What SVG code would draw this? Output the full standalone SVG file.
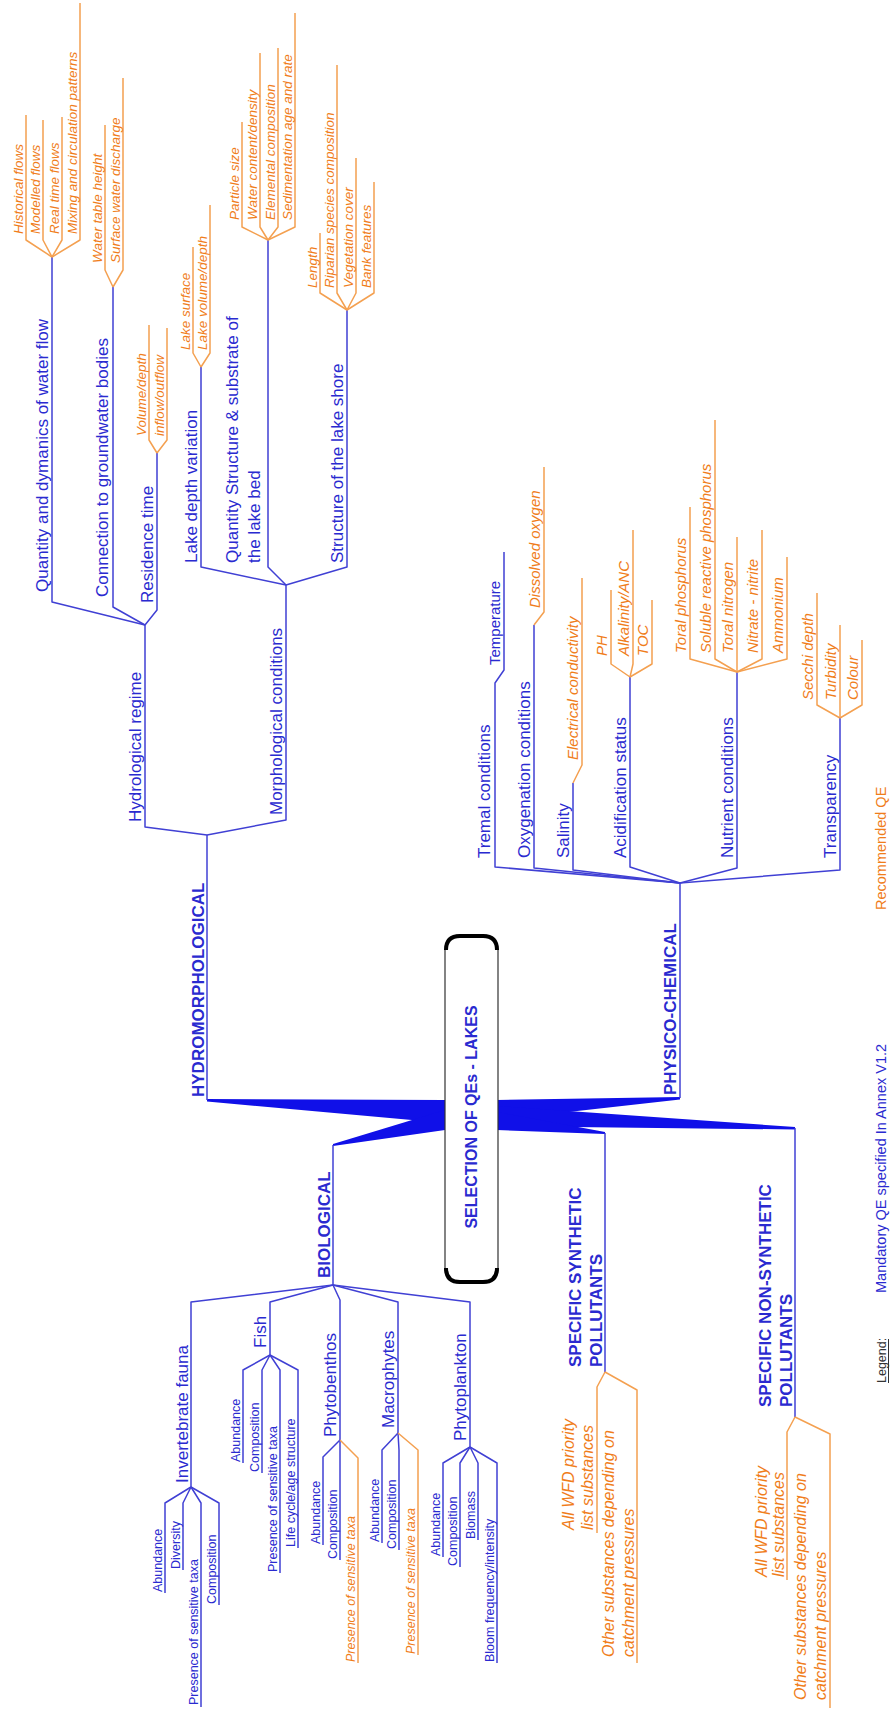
<svg xmlns="http://www.w3.org/2000/svg" width="893" height="1715" viewBox="0 0 893 1715">
<style>
text{font-family:"Liberation Sans",Arial,sans-serif}
.b1{font-weight:bold;font-size:17px;fill:#2a2ad0}
.b0{font-weight:bold;font-size:16px;fill:#2a2ad0}
.b2{font-size:17px;fill:#2a2ad0}
.b3{font-size:15px;fill:#2a2ad0}
.b4{font-size:12.5px;fill:#2a2ad0}
.o1{font-style:italic;font-size:13.5px;fill:#f07d1a}
.o2{font-style:italic;font-size:15px;fill:#f07d1a}
.o3{font-style:italic;font-size:16px;fill:#f07d1a}
.o4{font-style:italic;font-size:12.5px;fill:#f07d1a}
.lg{font-size:12.5px;fill:#333}
.ln{stroke:#4040d4;stroke-width:1.5;fill:none;stroke-linejoin:round}
.lo{stroke:#f4a050;stroke-width:1.5;fill:none;stroke-linejoin:round}
.wd{fill:#1010e8}
</style>
<rect width="893" height="1715" fill="#fff"/>
<g id="connectors">
<polygon class="wd" points="207,1099 445,1100 445,1123 207,1101.5"/>
<polygon class="wd" points="445,1110 445,1130 333,1146 333,1144"/>
<polygon class="wd" points="497,1100 680,1097 680,1099.5 497,1120"/>
<polygon class="wd" points="497,1106 795,1127 795,1129.5 497,1126"/>
<polygon class="wd" points="497,1112 497,1130 605,1134 605,1132"/>
<polyline class="ln" points="207,1100 207,835"/>
<polyline class="ln" points="207,835 145,827 145,625"/>
<polyline class="ln" points="207,835 286,820 286,585"/>
<polyline class="ln" points="145,625 52,602 52,257"/>
<polyline class="ln" points="145,625 113,607 113,287"/>
<polyline class="ln" points="145,625 157,610 157,453"/>
<polyline class="ln" points="286,585 201,567 201,367"/>
<polyline class="ln" points="286,585 268,567 268,240"/>
<polyline class="ln" points="286,585 347,567 347,310"/>
<polyline class="lo" points="52,257 26,240 26,115"/>
<polyline class="lo" points="52,257 43,240 43,120"/>
<polyline class="lo" points="52,257 62,240 62,117"/>
<polyline class="lo" points="52,257 80,240 80,3"/>
<polyline class="lo" points="113,287 105,270 105,125"/>
<polyline class="lo" points="113,287 123,270 123,78"/>
<polyline class="lo" points="157,453 149,440 149,325"/>
<polyline class="lo" points="157,453 167,440 167,328"/>
<polyline class="lo" points="201,367 193,353 193,247"/>
<polyline class="lo" points="201,367 210,353 210,205"/>
<polyline class="lo" points="268,240 242,227 242,122"/>
<polyline class="lo" points="268,240 260,227 260,53"/>
<polyline class="lo" points="268,240 278,227 278,48"/>
<polyline class="lo" points="268,240 295,227 295,13"/>
<polyline class="lo" points="347,310 320,293 320,233"/>
<polyline class="lo" points="347,310 337,293 337,65"/>
<polyline class="lo" points="347,310 356,293 356,158"/>
<polyline class="lo" points="347,310 374,293 374,182"/>
<polyline class="ln" points="680,1098 680,883"/>
<polyline class="ln" points="680,883 495,867 495,683 504,670 504,552"/>
<polyline class="ln" points="680,883 534,868 534,625"/>
<polyline class="lo" points="534,625 544,612 544,467"/>
<polyline class="ln" points="680,883 573,870 573,783"/>
<polyline class="lo" points="573,783 582,765 582,578"/>
<polyline class="ln" points="680,883 630,867 630,677"/>
<polyline class="lo" points="630,677 611,664 611,590"/>
<polyline class="lo" points="630,677 633,664 633,530"/>
<polyline class="lo" points="630,677 652,664 652,600"/>
<polyline class="ln" points="680,883 737,868 737,672"/>
<polyline class="lo" points="737,672 690,659 690,507"/>
<polyline class="lo" points="737,672 715,659 715,420"/>
<polyline class="lo" points="737,672 737,537"/>
<polyline class="lo" points="737,672 762,659 762,530"/>
<polyline class="lo" points="737,672 787,659 787,557"/>
<polyline class="ln" points="680,883 840,870 840,718"/>
<polyline class="lo" points="840,718 817,705 817,593"/>
<polyline class="lo" points="840,718 840,625"/>
<polyline class="lo" points="840,718 862,705 862,640"/>
<polyline class="ln" points="333,1145 333,1285"/>
<polyline class="ln" points="333,1285 191,1302 191,1487"/>
<polyline class="ln" points="333,1285 270,1302 270,1355"/>
<polyline class="ln" points="333,1285 340,1300 340,1440"/>
<polyline class="ln" points="333,1285 398,1302 398,1433"/>
<polyline class="ln" points="333,1285 470,1302 470,1447"/>
<polyline class="ln" points="191,1487 165,1503 165,1593"/>
<polyline class="ln" points="191,1487 183,1503 183,1570"/>
<polyline class="ln" points="191,1487 201,1503 201,1707"/>
<polyline class="ln" points="191,1487 219,1503 219,1605"/>
<polyline class="ln" points="270,1355 243,1370 243,1463"/>
<polyline class="ln" points="270,1355 262,1370 262,1473"/>
<polyline class="ln" points="270,1355 280,1370 280,1573"/>
<polyline class="ln" points="270,1355 298,1370 298,1548"/>
<polyline class="ln" points="340,1440 323,1457 323,1545"/>
<polyline class="ln" points="340,1440 340,1560"/>
<polyline class="lo" points="340,1440 358,1458 358,1663"/>
<polyline class="ln" points="398,1433 382,1450 382,1543"/>
<polyline class="ln" points="398,1433 399,1450 399,1550"/>
<polyline class="lo" points="398,1433 418,1450 418,1655"/>
<polyline class="ln" points="470,1447 443,1463 443,1557"/>
<polyline class="ln" points="470,1447 460,1463 460,1567"/>
<polyline class="ln" points="470,1447 478,1463 478,1540"/>
<polyline class="ln" points="470,1447 497,1463 497,1663"/>
<polyline class="ln" points="605,1133 605,1372"/>
<polyline class="lo" points="605,1372 597,1387 597,1533"/>
<polyline class="lo" points="605,1372 637,1390 637,1663"/>
<polyline class="ln" points="795,1128 795,1417"/>
<polyline class="lo" points="795,1417 787,1432 787,1580"/>
<polyline class="lo" points="795,1417 830,1434 830,1708"/>
</g>
<g id="root">
<rect x="445" y="935" width="53" height="348" rx="14" fill="#fff" stroke="#333" stroke-width="1.2"/>
<path d="M446,950 Q446,936 460,936 L483,936 Q497,936 497,950" fill="none" stroke="#000" stroke-width="4"/>
<path d="M446,1268 Q446,1282 460,1282 L483,1282 Q497,1282 497,1268" fill="none" stroke="#000" stroke-width="4"/>
<text class="b0" text-anchor="middle" transform="translate(477,1117) rotate(-90)">SELECTION OF QEs - LAKES</text>
</g>
<g id="n-hydro"><text class="b1" transform="translate(204,1097) rotate(-90)">HYDROMORPHOLOGICAL</text></g>
<g id="n-bio"><text class="b1" transform="translate(330,1278) rotate(-90)">BIOLOGICAL</text></g>
<g id="n-phys"><text class="b1" transform="translate(676,1095) rotate(-90)">PHYSICO-CHEMICAL</text></g>
<g id="n-syn"><text class="b1" transform="translate(581,1367) rotate(-90)">SPECIFIC SYNTHETIC</text><text class="b1" transform="translate(602,1367) rotate(-90)">POLLUTANTS</text></g>
<g id="n-nonsyn"><text class="b1" transform="translate(771,1407) rotate(-90)">SPECIFIC NON-SYNTHETIC</text><text class="b1" transform="translate(792,1407) rotate(-90)">POLLUTANTS</text></g>
<g id="n-regime"><text class="b2" transform="translate(141,822) rotate(-90)">Hydrological regime</text></g>
<g id="n-morph"><text class="b2" transform="translate(282,815) rotate(-90)">Morphological conditions</text></g>
<g id="n-quantity"><text class="b2" transform="translate(48,592) rotate(-90)">Quantity and dymanics of water flow</text></g>
<g id="n-connection"><text class="b2" transform="translate(108,597) rotate(-90)">Connection to groundwater bodies</text></g>
<g id="n-residence"><text class="b2" transform="translate(153,603) rotate(-90)">Residence time</text></g>
<g id="n-lakedepth"><text class="b2" transform="translate(197,563) rotate(-90)">Lake depth variation</text></g>
<g id="n-qstruct"><text class="b2" transform="translate(238,563) rotate(-90)">Quantity Structure &amp; substrate of</text><text class="b2" transform="translate(260,563) rotate(-90)">the lake bed</text></g>
<g id="n-shore"><text class="b2" transform="translate(343,563) rotate(-90)">Structure of the lake shore</text></g>
<g id="n-h1"><text class="o1" transform="translate(23,234) rotate(-90)">Historical flows</text></g>
<g id="n-h2"><text class="o1" transform="translate(40,234) rotate(-90)">Modelled flows</text></g>
<g id="n-h3"><text class="o1" transform="translate(59,234) rotate(-90)">Real time flows</text></g>
<g id="n-h4"><text class="o1" transform="translate(77,234) rotate(-90)">Mixing and circulation patterns</text></g>
<g id="n-h5"><text class="o1" transform="translate(102,263) rotate(-90)">Water table height</text></g>
<g id="n-h6"><text class="o1" transform="translate(120,263) rotate(-90)">Surface water discharge</text></g>
<g id="n-h7"><text class="o1" transform="translate(146,436) rotate(-90)">Volume/depth</text></g>
<g id="n-h8"><text class="o1" transform="translate(164,436) rotate(-90)">inflow/outflow</text></g>
<g id="n-h9"><text class="o1" transform="translate(190,350) rotate(-90)">Lake surface</text></g>
<g id="n-h10"><text class="o1" transform="translate(207,350) rotate(-90)">Lake volume/depth</text></g>
<g id="n-h11"><text class="o1" transform="translate(239,220) rotate(-90)">Particle size</text></g>
<g id="n-h12"><text class="o1" transform="translate(257,220) rotate(-90)">Water content/density</text></g>
<g id="n-h13"><text class="o1" transform="translate(275,220) rotate(-90)">Elemental composition</text></g>
<g id="n-h14"><text class="o1" transform="translate(292,220) rotate(-90)">Sedimentation age and rate</text></g>
<g id="n-h15"><text class="o1" transform="translate(317,288) rotate(-90)">Length</text></g>
<g id="n-h16"><text class="o1" transform="translate(334,288) rotate(-90)">Riparian species composition</text></g>
<g id="n-h17"><text class="o1" transform="translate(353,288) rotate(-90)">Vegetation cover</text></g>
<g id="n-h18"><text class="o1" transform="translate(371,288) rotate(-90)">Bank features</text></g>
<g id="n-thermal"><text class="b2" transform="translate(490,858) rotate(-90)">Tremal conditions</text></g>
<g id="n-oxy"><text class="b2" transform="translate(530,858) rotate(-90)">Oxygenation conditions</text></g>
<g id="n-sal"><text class="b2" transform="translate(569,858) rotate(-90)">Salinity</text></g>
<g id="n-acid"><text class="b2" transform="translate(626,858) rotate(-90)">Acidification status</text></g>
<g id="n-nutr"><text class="b2" transform="translate(733,858) rotate(-90)">Nutrient conditions</text></g>
<g id="n-transp"><text class="b2" transform="translate(836,858) rotate(-90)">Transparency</text></g>
<g id="n-temp"><text class="b3" transform="translate(500,665) rotate(-90)">Temperature</text></g>
<g id="n-p1"><text class="o2" transform="translate(540,608) rotate(-90)">Dissolved oxygen</text></g>
<g id="n-p2"><text class="o2" transform="translate(578,760) rotate(-90)">Electrical conductivity</text></g>
<g id="n-p3"><text class="o2" transform="translate(607,656) rotate(-90)">PH</text></g>
<g id="n-p4"><text class="o2" transform="translate(629,656) rotate(-90)">Alkalinity/ANC</text></g>
<g id="n-p5"><text class="o2" transform="translate(648,656) rotate(-90)">TOC</text></g>
<g id="n-p6"><text class="o2" transform="translate(686,653) rotate(-90)">Toral phosphorus</text></g>
<g id="n-p7"><text class="o2" transform="translate(711,653) rotate(-90)">Soluble reactive phosphorus</text></g>
<g id="n-p8"><text class="o2" transform="translate(733,653) rotate(-90)">Toral nitrogen</text></g>
<g id="n-p9"><text class="o2" transform="translate(758,653) rotate(-90)">Nitrate - nitrite</text></g>
<g id="n-p10"><text class="o2" transform="translate(783,653) rotate(-90)">Ammonium</text></g>
<g id="n-p11"><text class="o2" transform="translate(813,700) rotate(-90)">Secchi depth</text></g>
<g id="n-p12"><text class="o2" transform="translate(836,700) rotate(-90)">Turbidity</text></g>
<g id="n-p13"><text class="o2" transform="translate(858,700) rotate(-90)">Colour</text></g>
<g id="n-inv"><text class="b2" transform="translate(188,1483) rotate(-90)">Invertebrate fauna</text></g>
<g id="n-fish"><text class="b2" transform="translate(266,1348) rotate(-90)">Fish</text></g>
<g id="n-phytob"><text class="b2" transform="translate(336,1437) rotate(-90)">Phytobenthos</text></g>
<g id="n-macro"><text class="b2" transform="translate(394,1428) rotate(-90)">Macrophytes</text></g>
<g id="n-phytop"><text class="b2" transform="translate(466,1441) rotate(-90)">Phytoplankton</text></g>
<g id="n-i1"><text class="b4" transform="translate(162,1592) rotate(-90)">Abundance</text></g>
<g id="n-i2"><text class="b4" transform="translate(180,1569) rotate(-90)">Diversity</text></g>
<g id="n-i3"><text class="b4" transform="translate(198,1705) rotate(-90)">Presence of sensitive taxa</text></g>
<g id="n-i4"><text class="b4" transform="translate(216,1604) rotate(-90)">Composition</text></g>
<g id="n-f1"><text class="b4" transform="translate(240,1462) rotate(-90)">Abundance</text></g>
<g id="n-f2"><text class="b4" transform="translate(259,1472) rotate(-90)">Composition</text></g>
<g id="n-f3"><text class="b4" transform="translate(277,1572) rotate(-90)">Presence of sensitive taxa</text></g>
<g id="n-f4"><text class="b4" transform="translate(295,1547) rotate(-90)">Life cycle/age structure</text></g>
<g id="n-pb1"><text class="b4" transform="translate(320,1544) rotate(-90)">Abundance</text></g>
<g id="n-pb2"><text class="b4" transform="translate(337,1559) rotate(-90)">Composition</text></g>
<g id="n-pb3"><text class="o4" transform="translate(355,1662) rotate(-90)">Presence of sensitive taxa</text></g>
<g id="n-m1"><text class="b4" transform="translate(379,1542) rotate(-90)">Abundance</text></g>
<g id="n-m2"><text class="b4" transform="translate(396,1549) rotate(-90)">Composition</text></g>
<g id="n-m3"><text class="o4" transform="translate(415,1654) rotate(-90)">Presence of sensitive taxa</text></g>
<g id="n-pp1"><text class="b4" transform="translate(440,1556) rotate(-90)">Abundance</text></g>
<g id="n-pp2"><text class="b4" transform="translate(457,1566) rotate(-90)">Composition</text></g>
<g id="n-pp3"><text class="b4" transform="translate(475,1539) rotate(-90)">Biomass</text></g>
<g id="n-pp4"><text class="b4" transform="translate(494,1662) rotate(-90)">Bloom frequency/intensity</text></g>
<g id="n-s1"><text class="o3" transform="translate(574,1530) rotate(-90)">All WFD priority</text><text class="o3" transform="translate(593,1530) rotate(-90)">list substances</text></g>
<g id="n-s2"><text class="o3" transform="translate(614,1657) rotate(-90)">Other substances depending on</text><text class="o3" transform="translate(634,1657) rotate(-90)">catchment pressures</text></g>
<g id="n-s3"><text class="o3" transform="translate(767,1577) rotate(-90)">All WFD priority</text><text class="o3" transform="translate(784,1577) rotate(-90)">list substances</text></g>
<g id="n-s4"><text class="o3" transform="translate(806,1700) rotate(-90)">Other substances depending on</text><text class="o3" transform="translate(826,1700) rotate(-90)">catchment pressures</text></g>
<g id="legend">
<text class="lg" transform="translate(886,1383) rotate(-90)">Legend:</text>
<line x1="888.5" y1="1383" x2="888.5" y2="1339" stroke="#333" stroke-width="1"/>
<text class="b3" style="font-size:14.5px" transform="translate(886,1293) rotate(-90)">Mandatory QE specified In Annex V1.2</text>
<text class="o2" style="font-style:normal;font-size:14.5px" transform="translate(886,910) rotate(-90)">Recommended QE</text>
</g>
</svg>
